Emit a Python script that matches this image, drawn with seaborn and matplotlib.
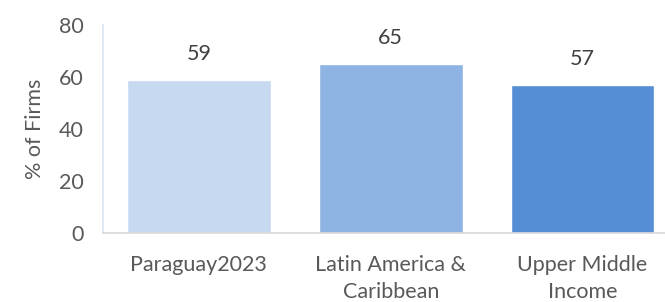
import matplotlib
matplotlib.use("Agg")
import matplotlib.pyplot as plt
import seaborn as sns
import pandas as pd

# donnees
categories = ["Paraguay2023", "Latin America &\nCaribbean", "Upper Middle\nIncome"]
values = [59, 65, 57]
colors = ["#c6d9f0", "#8eb4e3", "#558ed5"]
yticks = [0, 20, 40, 60, 80]

sns.set_theme(style="white")
plt.rcParams['font.family'] = ['Lato', 'DejaVu Sans']

df = pd.DataFrame({"cat": categories, "val": values})

fig = plt.figure(figsize=(6.65, 3.02), dpi=100)
ax = fig.add_axes([103 / 665, 69 / 302, 562 / 665, 208 / 302])

sns.barplot(data=df, x="cat", y="val", hue="cat", palette=colors,
            width=0.75, legend=False, ax=ax, saturation=1)

for i, v in enumerate(values):
    ax.text(i, v + 10, f"{v}", ha="center", va="center", fontsize=15.5, color="#404040")

ax.set_ylim(0, 80)
ax.set_xlim(-0.5, 2.43)
ax.set_yticks(yticks)
ax.set_xlabel("")
ax.set_ylabel("% of Firms", fontsize=15.5, color="#595959", labelpad=10)
ax.tick_params(axis="both", labelsize=15.5, colors="#595959", length=0)
ax.tick_params(axis="x", pad=16)
ax.tick_params(axis="y", pad=14)
for lbl in ax.get_xticklabels():
    lbl.set_linespacing(1.45)

for s in ["top", "right"]:
    ax.spines[s].set_visible(False)
ax.spines["left"].set_color("#dce6f2")
ax.spines["bottom"].set_color("#d9d9d9")
ax.spines["bottom"].set_linewidth(1.2)

fig.savefig("out.png", dpi=100)
